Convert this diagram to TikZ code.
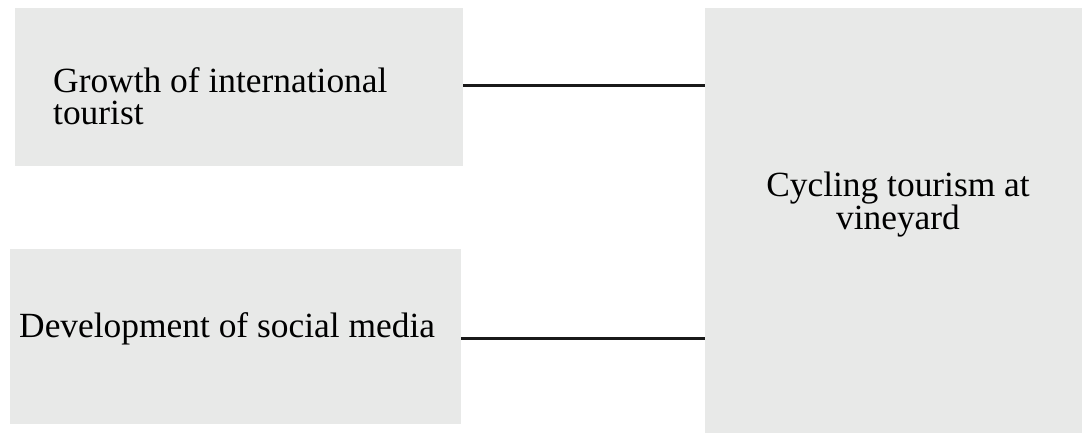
\documentclass[tikz,border=0pt]{standalone}
\usepackage{fontspec}
\setmainfont{Liberation Serif}
\definecolor{boxgray}{RGB}{232,233,232}
\tikzset{
  factor/.style={fill=boxgray, draw=none, inner sep=0pt},
  factortext/.style={inner sep=0pt, font=\fontsize{35.4}{32}\selectfont},
  link/.style={line width=3pt, black!90}
}
\begin{document}
\begin{tikzpicture}[x=1pt,y=-1pt]
	\useasboundingbox (0,0) rectangle (1082,434);
	% boxes
	\node[factor, minimum width=448pt, minimum height=158pt] (growth) at (239,87) {};
	\node[factor, minimum width=451pt, minimum height=175pt] (media) at (235.5,336.5) {};
	\node[factor, minimum width=377pt, minimum height=425pt] (cycling) at (893.5,220.5) {};
	% texts
	\node[factortext, align=left, anchor=north west] (growthtext) at (53,67) {Growth of international\\tourist};
	\node[factortext, anchor=base west] (mediatext) at (19,337) {Development of social media};
	\node[factortext, align=center, anchor=north] (cyclingtext) at (898,172) {Cycling tourism at\\vineyard};
	% links
	\draw[link] ([yshift=2pt]growth.east) -- ([yshift=2pt]growth.east -| cycling.west);
	\draw[link] ([yshift=-1.5pt]media.east) -- ([yshift=-1.5pt]media.east -| cycling.west);
\end{tikzpicture}
\end{document}
